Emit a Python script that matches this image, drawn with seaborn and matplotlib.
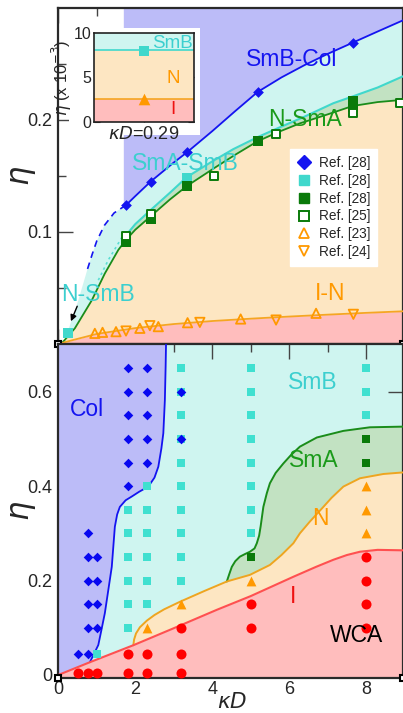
import numpy as np
import matplotlib
matplotlib.use("Agg")
import matplotlib.pyplot as plt
import seaborn as sns
from matplotlib.lines import Line2D
from matplotlib.patches import Rectangle

sns.set_style("ticks")
plt.rcParams['font.family'] = ['Liberation Sans', 'DejaVu Sans']
plt.rcParams['mathtext.fontset'] = 'dejavusans'

# ---------------- colours ----------------
C_COL_F, C_SMB_F, C_SMA_F, C_N_F, C_I_F = '#bcbcf8', '#cff5f0', '#c2e2c2', '#fde6c2', '#ffbdbd'
C_COL, C_SMB, C_SMA, C_N, C_I = '#1414f0', '#40d8cc', '#1a8c1a', '#f5a623', '#ff5050'
C_SMB_TXT = '#3ccfcf'
C_TRI = '#ff9900'

# ================= TOP PANEL DATA =================
# SmB-Col boundary (solid)
top_col_x = [1.76, 2.0, 2.4, 3.0, 3.34, 4.0, 4.6, 5.18, 5.8, 6.4, 7.0, 7.65, 8.3, 8.96]
top_col_y = [0.124, 0.132, 0.145, 0.162, 0.171, 0.190, 0.208, 0.225, 0.238, 0.249, 0.259, 0.269, 0.279, 0.289]
top_col_left = 1.69
# SmB-Col boundary (dashed extrapolation)
top_dash_x = [0.76, 0.88, 1.0, 1.2, 1.45, 1.76]
top_dash_y = [0.067, 0.080, 0.092, 0.106, 0.117, 0.124]
# left edge of SmB region below dashed line
top_smbedge_x = [0.17, 0.26, 0.52, 0.76]
top_smbedge_y = [0.0036, 0.0125, 0.039, 0.067]
# SmA-SmB boundary
top_smasmb_x = [1.76, 2.0, 2.4, 2.9, 3.34, 4.0, 4.55, 5.2, 5.76, 6.4, 7.15, 7.65, 8.3, 8.96]
top_smasmb_y = [0.097, 0.107, 0.1196, 0.135, 0.149, 0.163, 0.174, 0.185, 0.1935, 0.203, 0.215, 0.221, 0.229, 0.239]
top_smasmb_dot_x = [1.04, 1.3, 1.65]
top_smasmb_dot_y = [0.057, 0.075, 0.095]
# N-SmA / N-SmB boundary
top_nsma_x = [0.0, 0.09, 0.43, 0.87, 1.21, 1.56, 1.76, 2.0, 2.4, 2.9, 3.34, 4.05, 4.6, 5.18, 5.7, 6.28, 7.0, 7.65, 8.3, 8.96]
top_nsma_y = [0.0, 0.0006, 0.014, 0.039, 0.063, 0.084, 0.093, 0.102, 0.114, 0.129, 0.141, 0.157, 0.169, 0.181, 0.189, 0.197, 0.205, 0.2125, 0.216, 0.218]
# I-N boundary
top_in_x = [0, 0.3, 1.0, 2.0, 3.0, 4.0, 5.0, 6.0, 7.0, 8.0, 8.96]
top_in_y = [0, 0.0028, 0.009, 0.0142, 0.0178, 0.0205, 0.0226, 0.0245, 0.0262, 0.0278, 0.0292]

# markers
ref28_col_x = [1.76, 2.40, 3.34, 5.18, 7.65]
ref28_col_y = [0.124, 0.145, 0.171, 0.225, 0.269]
ref28_smb_x = [0.26, 3.34]
ref28_smb_y = [0.0095, 0.148]
ref28_sma_x = [1.76, 2.40, 3.34, 5.18, 7.65, 7.65]
ref28_sma_y = [0.091, 0.112, 0.141, 0.181, 0.212, 0.217]
ref25_x = [1.76, 2.40, 4.05, 5.66, 7.65, 8.88]
ref25_y = [0.096, 0.116, 0.150, 0.1875, 0.206, 0.215]
ref23_x = [0.95, 1.15, 1.50, 2.12, 2.60, 3.36, 4.74, 6.70]
ref23_y = [0.0095, 0.0104, 0.011, 0.014, 0.0155, 0.019, 0.0223, 0.0274]
ref24_x = [1.76, 2.38, 3.68, 5.66, 7.67]
ref24_y = [0.0116, 0.0164, 0.0193, 0.0214, 0.0265]
legend_labels = ['Ref. [28]', 'Ref. [28]', 'Ref. [28]', 'Ref. [25]', 'Ref. [23]', 'Ref. [24]']

# inset (kappa D = 0.29), eta in units of 1e-3
inset_kd = 0.29
inset_in = 2.6
inset_nsmb = 8.1
inset_sq_eta = 8.0
inset_tri_eta = 2.6

# ================= BOTTOM PANEL DATA =================
bot_i_x = [0, 0.82, 1.95, 3.0, 4.12, 5.0, 6.11, 6.7, 7.15, 7.5, 7.84, 8.3, 8.96]
bot_i_y = [0, 0.027, 0.063, 0.099, 0.138, 0.167, 0.208, 0.229, 0.244, 0.254, 0.261, 0.265, 0.264]
bot_n_x = [1.95, 1.97, 2.02, 2.12, 2.3, 2.5, 2.75, 3.16, 3.8, 4.38, 4.98, 5.5, 5.8, 6.11, 6.28, 6.54, 6.89, 7.1, 7.41, 7.84, 8.45, 8.96]
bot_n_y = [0.063, 0.075, 0.088, 0.101, 0.115, 0.127, 0.139, 0.155, 0.178, 0.198, 0.212, 0.233, 0.254, 0.279, 0.300, 0.325, 0.356, 0.375, 0.399, 0.4166, 0.4257, 0.429]
bot_sma_x = [4.38, 4.45, 4.51, 4.6, 4.72, 4.85, 4.98, 5.1, 5.16, 5.22, 5.26, 5.33, 5.42, 5.5, 5.65, 5.85, 6.05, 6.28, 6.72, 7.41, 8.1, 8.96]
bot_sma_y = [0.198, 0.215, 0.229, 0.241, 0.2506, 0.256, 0.261, 0.268, 0.279, 0.295, 0.315, 0.356, 0.385, 0.406, 0.428, 0.448, 0.466, 0.4836, 0.503, 0.517, 0.5246, 0.526]
bot_col_x = [0.82, 0.93, 1.04, 1.12, 1.21, 1.3, 1.39, 1.47, 1.53, 1.60, 1.75, 1.91, 2.1, 2.34, 2.5, 2.60, 2.68, 2.73, 2.77, 2.79, 2.8]
bot_col_y = [0.027, 0.045, 0.0635, 0.095, 0.131, 0.18, 0.229, 0.314, 0.340, 0.356, 0.370, 0.378, 0.388, 0.399, 0.418, 0.441, 0.48, 0.512, 0.582, 0.653, 0.70]

sim_col_x = [0.5] + [0.78]*6 + [1.0]*4 + [1.8]*6 + [2.3]*5 + [3.2]*2
sim_col_y = [0.045, 0.045, 0.1, 0.15, 0.2, 0.25, 0.3, 0.1, 0.15, 0.2, 0.25,
             0.4, 0.45, 0.5, 0.55, 0.6, 0.65, 0.45, 0.5, 0.55, 0.6, 0.65, 0.5, 0.6]
sim_smb_x = [1.0] + [1.8]*6 + [2.3]*6 + [3.2]*10 + [5.0]*8 + [8.0]*3
sim_smb_y = ([0.045] + [0.1, 0.15, 0.2, 0.25, 0.3, 0.35] + [0.15, 0.2, 0.25, 0.3, 0.35, 0.4]
             + [0.2, 0.25, 0.3, 0.35, 0.4, 0.45, 0.5, 0.55, 0.6, 0.65]
             + [0.3, 0.35, 0.4, 0.45, 0.5, 0.55, 0.6, 0.65] + [0.55, 0.6, 0.65])
sim_sma_x = [5.0, 8.0, 8.0]
sim_sma_y = [0.25, 0.45, 0.5]
sim_n_x = [2.3, 3.2, 5.0, 8.0, 8.0, 8.0]
sim_n_y = [0.1, 0.15, 0.2, 0.3, 0.35, 0.4]
sim_i_x = [0.5, 0.78, 1.0, 1.8, 1.8, 2.3, 2.3, 3.2, 3.2, 3.2, 5.0, 5.0, 8.0, 8.0, 8.0, 8.0]
sim_i_y = [0.005, 0.005, 0.005, 0.005, 0.045, 0.005, 0.045, 0.005, 0.045, 0.1, 0.1, 0.15, 0.1, 0.15, 0.2, 0.25]

XMAX = 8.96
TOP_YLIM = (0.0, 0.300)
BOT_YLIM = (-0.0064, 0.701)

# ================= FIGURE =================
fig = plt.figure(figsize=(4.03, 7.13), dpi=100)
L = 58.3 / 403
W = 1 - L
ax_t = fig.add_axes([L, 1 - 344 / 713, W, 336 / 713])
ax_b = fig.add_axes([L, 1 - 678 / 713, W, 334 / 713])

def style_axes(ax):
    ax.set_xlim(0, XMAX)
    for s in ax.spines.values():
        s.set_linewidth(1.6)
        s.set_color('#2a2a2a')
    ax.tick_params(which='both', direction='in', top=True, right=True, color='#444444', width=1.0)
    ax.tick_params(which='major', length=11, labelsize=13, pad=4)
    ax.tick_params(which='minor', length=5.5)
    ax.set_xticks([0, 2, 4, 6, 8])
    ax.set_xticks([1, 3, 5, 7], minor=True)

# ---------- top panel ----------
ax = ax_t
ax.set_facecolor('white')
# Col region
ax.fill_between([top_col_left] + top_col_x, [top_col_y[0]] + top_col_y, TOP_YLIM[1],
                color=C_COL_F, lw=0, zorder=1)
# SmB region
smb_up_x = top_smbedge_x + top_dash_x[1:] + top_col_x[1:]
smb_up_y = top_smbedge_y + top_dash_y[1:] + top_col_y[1:]
ax.fill(smb_up_x + top_nsma_x[::-1], smb_up_y + top_nsma_y[::-1], color=C_SMB_F, lw=0, zorder=1.1)
# SmA region
sel = [i for i, v in enumerate(top_nsma_x) if v >= top_smasmb_x[0]]
ax.fill(top_smasmb_x + [top_nsma_x[i] for i in sel][::-1],
        top_smasmb_y + [top_nsma_y[i] for i in sel][::-1], color=C_SMA_F, lw=0, zorder=1.2)
# N region
ax.fill(top_nsma_x + top_in_x[::-1], top_nsma_y + top_in_y[::-1], color=C_N_F, lw=0, zorder=1.3)
# I region
ax.fill_between(top_in_x, 0, top_in_y, color=C_I_F, lw=0, zorder=1.4)

sns.lineplot(x=top_col_x, y=top_col_y, sort=False, estimator=None, color=C_COL, lw=1.3, ax=ax, zorder=3)
sns.lineplot(x=top_dash_x, y=top_dash_y, sort=False, estimator=None, color=C_COL, lw=1.2, ax=ax,
             zorder=3, linestyle=(0, (4, 3)))
sns.lineplot(x=top_smasmb_x, y=top_smasmb_y, sort=False, estimator=None, color=C_SMB, lw=1.5, ax=ax, zorder=3)
sns.lineplot(x=top_smasmb_dot_x, y=top_smasmb_dot_y, sort=False, estimator=None, color=C_SMB, lw=1.2,
             ax=ax, zorder=3, linestyle=(0, (1.5, 2)), alpha=0.8)
sns.lineplot(x=top_nsma_x, y=top_nsma_y, sort=False, estimator=None, color=C_SMA, lw=1.3, ax=ax, zorder=3.1)
sns.lineplot(x=top_in_x, y=top_in_y, sort=False, estimator=None, color=C_N, lw=1.3, ax=ax, zorder=3.1)

sns.scatterplot(x=ref28_col_x, y=ref28_col_y, marker='D', s=30, color=C_COL, edgecolor=C_COL, linewidth=0, ax=ax, zorder=5)
sns.scatterplot(x=ref28_smb_x, y=ref28_smb_y, marker='s', s=44, color=C_SMB, edgecolor=C_SMB, linewidth=0, ax=ax, zorder=5)
sns.scatterplot(x=ref28_sma_x, y=ref28_sma_y, marker='s', s=44, color='#0a7a0a', edgecolor='#0a7a0a', linewidth=0, ax=ax, zorder=5)
sns.scatterplot(x=ref25_x, y=ref25_y, marker='s', s=38, color='#0a7a0a', facecolor='white', edgecolor='#0a7a0a', linewidth=1.4, ax=ax, zorder=5.1)
sns.scatterplot(x=ref23_x, y=ref23_y, marker='^', s=45, color=C_TRI, facecolor='none', edgecolor=C_TRI, linewidth=1.3, ax=ax, zorder=5)
sns.scatterplot(x=ref24_x, y=ref24_y, marker='v', s=45, color=C_TRI, facecolor='none', edgecolor=C_TRI, linewidth=1.3, ax=ax, zorder=5)

style_axes(ax)
ax.set_ylim(*TOP_YLIM)
ax.set_yticks([0.1, 0.2])
ax.set_yticklabels(['0.1', '0.2'])
ax.set_yticks([0.05, 0.15, 0.25], minor=True)
ax.tick_params(axis='x', which='both', labelbottom=False)
ax.set_ylabel(r'$\eta$', fontsize=22)
ax.yaxis.set_label_coords(-0.06, 0.5)

ax.text(6.07, 0.2536, 'SmB-Col', color=C_COL, fontsize=16.5, ha='center', va='center', zorder=6)
ax.text(6.40, 0.200, 'N-SmA', color='#1a9a1a', fontsize=16.5, ha='center', va='center', zorder=6)
ax.text(3.31, 0.161, 'SmA-SmB', color=C_SMB_TXT, fontsize=16.5, ha='center', va='center', zorder=6)
ax.text(1.02, 0.0438, 'N-SmB', color=C_SMB_TXT, fontsize=16.5, ha='center', va='center', zorder=6)
ax.text(7.06, 0.0453, 'I-N', color=C_TRI, fontsize=16.5, ha='center', va='center', zorder=6)
ax.annotate('', xy=(0.30, 0.018), xytext=(0.52, 0.036),
            arrowprops=dict(arrowstyle='-|>', color='black', lw=1.0, mutation_scale=9), zorder=6)

handles = [
    Line2D([], [], ls='none', marker='D', ms=7, color=C_COL, mec=C_COL),
    Line2D([], [], ls='none', marker='s', ms=6.5, color=C_SMB, mec=C_SMB),
    Line2D([], [], ls='none', marker='s', ms=6.5, color='#0a7a0a', mec='#0a7a0a'),
    Line2D([], [], ls='none', marker='s', ms=6.5, mfc='white', mec='#0a7a0a', mew=1.4),
    Line2D([], [], ls='none', marker='^', ms=7, mfc='none', mec=C_TRI, mew=1.3),
    Line2D([], [], ls='none', marker='v', ms=7, mfc='none', mec=C_TRI, mew=1.3),
]
leg = ax.legend(handles, legend_labels, loc='upper left', bbox_to_anchor=(0.673, 0.58),
                borderaxespad=0, fontsize=9.8, frameon=True, fancybox=False, framealpha=1,
                edgecolor='white', handlelength=1.0, handletextpad=0.6, labelspacing=0.28,
                borderpad=0.5)
leg.set_zorder(7)

# white box + inset
ax.add_patch(Rectangle((0.03, 0.622), 0.38, 0.318, transform=ax.transAxes, facecolor='white',
                       edgecolor='none', zorder=4))
axi = ax.inset_axes([0.104, 0.662, 0.289, 0.263])
axi.set_zorder(5)
axi.set_xlim(0, 2 * inset_kd)
axi.set_ylim(0, 10)
axi.axhspan(0, inset_in, color=C_I_F, lw=0)
axi.axhspan(inset_in, inset_nsmb, color=C_N_F, lw=0)
axi.axhspan(inset_nsmb, 10, color=C_SMB_F, lw=0)
axi.axhline(inset_in, color=C_N, lw=1.2)
axi.axhline(inset_nsmb, color=C_SMB, lw=1.2)
sns.scatterplot(x=[inset_kd], y=[inset_sq_eta], marker='s', s=55, color=C_SMB, edgecolor=C_SMB, linewidth=0, ax=axi, zorder=5)
sns.scatterplot(x=[inset_kd], y=[inset_tri_eta], marker='^', s=70, color=C_TRI, edgecolor=C_TRI, linewidth=0, ax=axi, zorder=5)
axi.text(0.458, 8.87, 'SmB', color=C_SMB_TXT, fontsize=13.5, ha='center', va='center')
axi.text(0.458, 4.91, 'N', color=C_TRI, fontsize=13.5, ha='center', va='center')
axi.text(0.458, 1.39, 'I', color='#ee1111', fontsize=13.5, ha='center', va='center')
axi.set_yticks([0, 5, 10])
axi.set_xticks([inset_kd])
axi.set_xticklabels([])
axi.tick_params(which='both', direction='in', top=True, right=True, length=4, width=0.8,
                labelsize=11.5, pad=2)
for s in axi.spines.values():
    s.set_linewidth(1.2)
    s.set_color('#222222')
axi.set_xlabel(r'$\kappa D$=0.29', fontsize=13, labelpad=1)
axi.set_ylabel(r'$\eta$ (x 10$^{-3}$)', fontsize=12, labelpad=0)

# ---------- bottom panel ----------
ax = ax_b
ax.set_facecolor(C_SMB_F)
# Col region
ax.fill([bot_i_x[0]] + bot_col_x + [bot_i_x[0]], [bot_i_y[0]] + bot_col_y + [BOT_YLIM[1]],
        color=C_COL_F, lw=0, zorder=1)
# N region
selr = [i for i, v in enumerate(bot_i_x) if v > bot_n_x[0]]
ax.fill(bot_n_x + [bot_i_x[i] for i in selr][::-1], bot_n_y + [bot_i_y[i] for i in selr][::-1],
        color=C_N_F, lw=0, zorder=1.1)
# SmA region
seln = [i for i, v in enumerate(bot_n_x) if v > bot_sma_x[0]]
ax.fill(bot_sma_x + [bot_n_x[i] for i in seln][::-1], bot_sma_y + [bot_n_y[i] for i in seln][::-1],
        color=C_SMA_F, lw=0, zorder=1.2)
# I region
ax.fill_between(bot_i_x, BOT_YLIM[0], bot_i_y, color=C_I_F, lw=0, zorder=1.3)

sns.lineplot(x=bot_col_x, y=bot_col_y, sort=False, estimator=None, color=C_COL, lw=1.3, ax=ax, zorder=3)
sns.lineplot(x=bot_sma_x, y=bot_sma_y, sort=False, estimator=None, color=C_SMA, lw=1.4, ax=ax, zorder=3)
sns.lineplot(x=bot_n_x, y=bot_n_y, sort=False, estimator=None, color='#eea520', lw=1.4, ax=ax, zorder=3)
sns.lineplot(x=bot_i_x, y=bot_i_y, sort=False, estimator=None, color=C_I, lw=1.5, ax=ax, zorder=3)

sns.scatterplot(x=sim_smb_x, y=sim_smb_y, marker='s', s=36, color='#40e0d0', edgecolor='#40e0d0', linewidth=0, ax=ax, zorder=4)
sns.scatterplot(x=sim_col_x, y=sim_col_y, marker='D', s=24, color='#0808f0', edgecolor='#0808f0', linewidth=0, ax=ax, zorder=5)
sns.scatterplot(x=sim_sma_x, y=sim_sma_y, marker='s', s=36, color='#0a7a0a', edgecolor='#0a7a0a', linewidth=0, ax=ax, zorder=5)
sns.scatterplot(x=sim_n_x, y=sim_n_y, marker='^', s=50, color=C_TRI, edgecolor=C_TRI, linewidth=0, ax=ax, zorder=5)
sns.scatterplot(x=sim_i_x, y=sim_i_y, marker='o', s=52, color='#ff0000', edgecolor='#ff0000', linewidth=0, ax=ax, zorder=5)

style_axes(ax)
ax.set_ylim(*BOT_YLIM)
ax.set_yticks([0, 0.2, 0.4, 0.6])
ax.set_yticklabels(['0', '0.2', '0.4', '0.6'])
ax.set_yticks([0.1, 0.3, 0.5], minor=True)
ax.set_xticklabels(['0', '2', '4', '6', '8'])
ax.tick_params(axis='x', pad=2)
ax.set_ylabel(r'$\eta$', fontsize=22)
ax.yaxis.set_label_coords(-0.06, 0.5)
ax.set_xlabel(r'$\kappa D$', fontsize=15.5)
ax.xaxis.set_label_coords(0.505, -0.041)

ax.text(0.75, 0.563, 'Col', color=C_COL, fontsize=16.5, ha='center', va='center', zorder=6)
ax.text(6.62, 0.620, 'SmB', color=C_SMB_TXT, fontsize=16.5, ha='center', va='center', zorder=6)
ax.text(6.63, 0.455, 'SmA', color='#1a9a1a', fontsize=16.5, ha='center', va='center', zorder=6)
ax.text(6.80, 0.332, 'N', color=C_TRI, fontsize=16.5, ha='center', va='center', zorder=6)
ax.text(6.11, 0.166, 'I', color='#ee1111', fontsize=16.5, ha='center', va='center', zorder=6)
ax.text(7.76, 0.0826, 'WCA', color='black', fontsize=16.5, ha='center', va='center', zorder=6)

# small corner markers at the panel junctions
for a in (ax_t, ax_b):
    a.plot([0, 1], [0, 0], transform=a.transAxes, ls='none', marker='s', ms=4.5, mfc='white',
           mec='black', mew=1.5, clip_on=False, zorder=10)

fig.savefig('out.png', dpi=100)
